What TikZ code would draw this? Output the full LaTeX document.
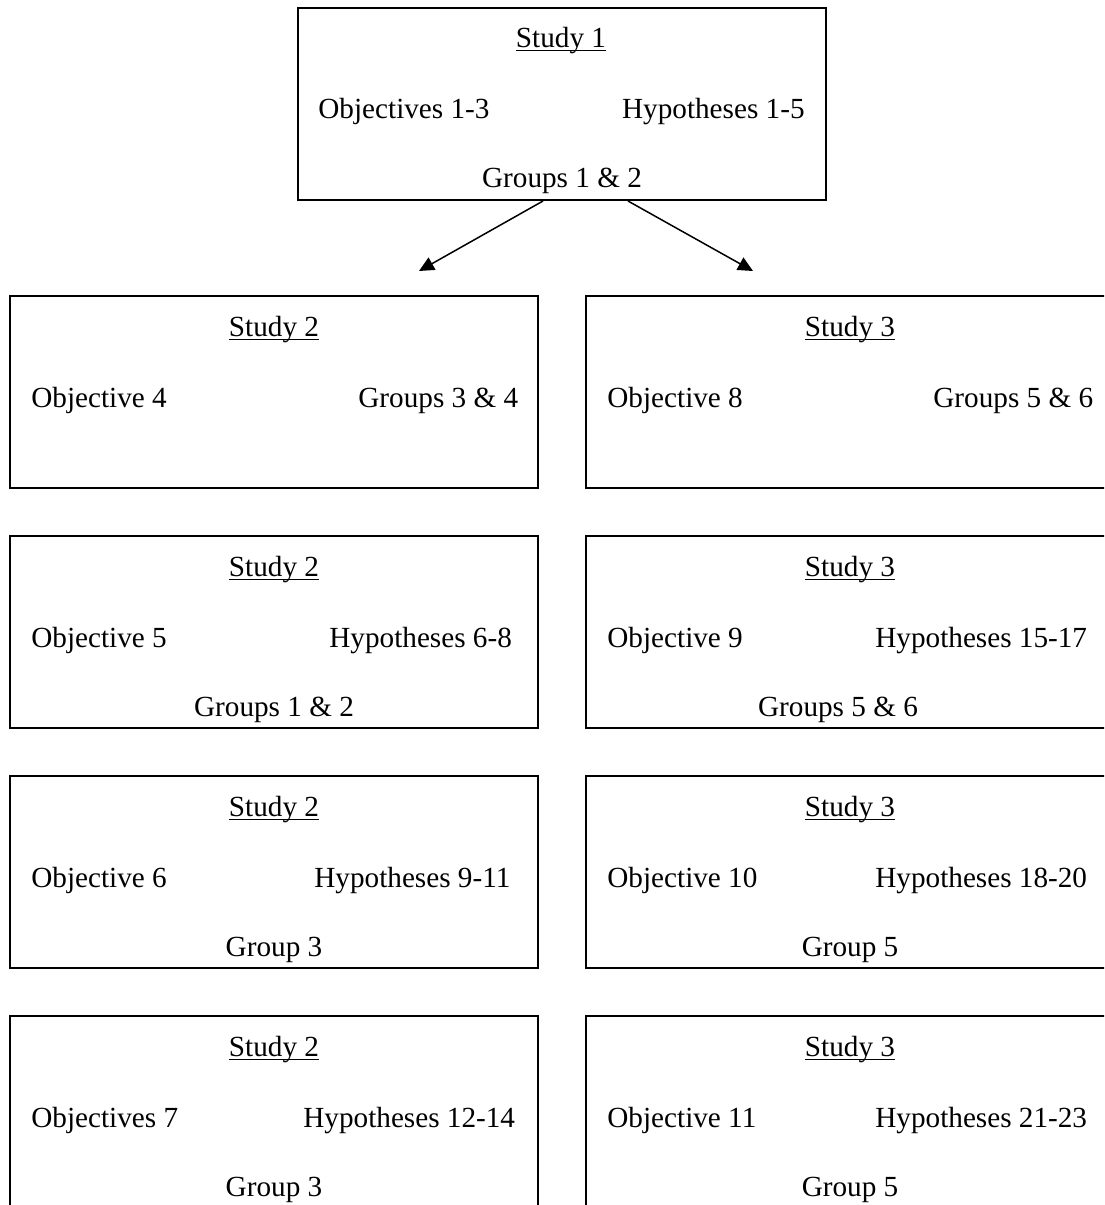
\documentclass[tikz,border=0pt]{standalone}
\usepackage{fontspec}
\setmainfont{Liberation Serif}
\usetikzlibrary{arrows.meta}
\newcommand{\studyline}[1]{\setbox0\hbox{#1}\rlap{\rule[-2.2pt]{\wd0}{0.9pt}}\box0}
\tikzset{
  studybox/.style={draw, line width=1pt, minimum width=264pt, minimum height=96pt, inner sep=0pt},
  txt/.style={inner sep=0pt, font=\fontsize{14.6}{17}\selectfont},
  arr/.style={line width=.75pt, -{Triangle[length=7.5pt,width=7pt]}}
}
\begin{document}
\begin{tikzpicture}[x=0.5pt, y=-0.5pt]
        \useasboundingbox (0,0) rectangle (1104,1205);
        \clip (0,0) rectangle (1104,1205);

        %%Study 1
        \node[studybox] (s1) at (561.5,104) {};
        \node[txt, anchor=base] (s1t) at (561,47) {\studyline{Study 1}};
        \node[txt, anchor=base west] (s1o) at (318,118) {Objectives 1-3};
        \node[txt, anchor=base east] (s1h) at (805,118) {Hypotheses 1-5};
        \node[txt, anchor=base] (s1g) at (562,187) {Groups 1 \& 2};

        %%arrows
        \coordinate (a2) at (419,271);
        \coordinate (a3) at (753,271);
        \draw[arr] ([xshift=-9.25pt]s1.south) -- (a2);
        \draw[arr] ([xshift=33.25pt]s1.south) -- (a3);

        %%Study 2, row 1
        \node[studybox] (s2a) at (274,391.5) {};
        \node[txt, anchor=base] (s2at) at (274,336) {\studyline{Study 2}};
        \node[txt, anchor=base west] (s2ao) at (31,407) {Objective 4};
        \node[txt, anchor=base west] (s2ag) at (358,407) {Groups 3 \& 4};

        %%Study 3, row 1
        \node[studybox] (s3a) at (850,391.5) {};
        \node[txt, anchor=base] (s3at) at (850,336) {\studyline{Study 3}};
        \node[txt, anchor=base west] (s3ao) at (607,407) {Objective 8};
        \node[txt, anchor=base west] (s3ag) at (933,407) {Groups 5 \& 6};

        %%Study 2, row 2
        \node[studybox] (s2b) at (274,631.5) {};
        \node[txt, anchor=base] (s2bt) at (274,576) {\studyline{Study 2}};
        \node[txt, anchor=base west] (s2bo) at (31,647) {Objective 5};
        \node[txt, anchor=base west] (s2bh) at (329,647) {Hypotheses 6-8};
        \node[txt, anchor=base] (s2bg) at (274,716) {Groups 1 \& 2};

        %%Study 3, row 2
        \node[studybox] (s3b) at (850,631.5) {};
        \node[txt, anchor=base] (s3bt) at (850,576) {\studyline{Study 3}};
        \node[txt, anchor=base west] (s3bo) at (607,647) {Objective 9};
        \node[txt, anchor=base west] (s3bh) at (875,647) {Hypotheses 15-17};
        \node[txt, anchor=base] (s3bg) at (838,716) {Groups 5 \& 6};

        %%Study 2, row 3
        \node[studybox] (s2c) at (274,871.5) {};
        \node[txt, anchor=base] (s2ct) at (274,816) {\studyline{Study 2}};
        \node[txt, anchor=base west] (s2co) at (31,887) {Objective 6};
        \node[txt, anchor=base west] (s2ch) at (314,887) {Hypotheses 9-11};
        \node[txt, anchor=base] (s2cg) at (274,956) {Group 3};

        %%Study 3, row 3
        \node[studybox] (s3c) at (850,871.5) {};
        \node[txt, anchor=base] (s3ct) at (850,816) {\studyline{Study 3}};
        \node[txt, anchor=base west] (s3co) at (607,887) {Objective 10};
        \node[txt, anchor=base west] (s3ch) at (875,887) {Hypotheses 18-20};
        \node[txt, anchor=base] (s3cg) at (850,956) {Group 5};

        %%Study 2, row 4
        \node[studybox] (s2d) at (274,1111.5) {};
        \node[txt, anchor=base] (s2dt) at (274,1056) {\studyline{Study 2}};
        \node[txt, anchor=base west] (s2do) at (31,1127) {Objectives 7};
        \node[txt, anchor=base west] (s2dh) at (303,1127) {Hypotheses 12-14};
        \node[txt, anchor=base] (s2dg) at (274,1196) {Group 3};

        %%Study 3, row 4
        \node[studybox] (s3d) at (850,1111.5) {};
        \node[txt, anchor=base] (s3dt) at (850,1056) {\studyline{Study 3}};
        \node[txt, anchor=base west] (s3do) at (607,1127) {Objective 11};
        \node[txt, anchor=base west] (s3dh) at (875,1127) {Hypotheses 21-23};
        \node[txt, anchor=base] (s3dg) at (850,1196) {Group 5};

\end{tikzpicture}
\end{document}
